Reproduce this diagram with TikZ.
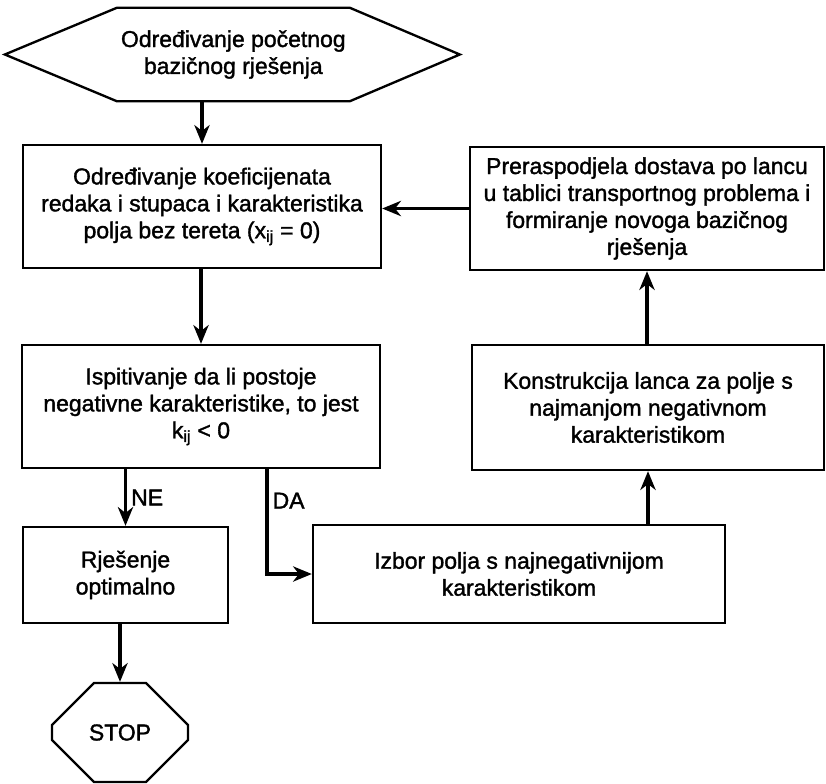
\documentclass[tikz,border=0pt]{standalone}
\usepackage{fontspec}
\setmainfont{Liberation Sans}[FakeBold=1.5]
\usetikzlibrary{arrows.meta,shapes.misc}

\begin{document}
\begin{tikzpicture}[
    auto,
    block/.style={rectangle, draw, line width=2pt, align=center, inner sep=2pt},
    txt/.style={font=\fontsize{19.6}{23}\selectfont},
    flow/.style={->, line width=3pt},
    >={Stealth[length=16pt,width=13pt,inset=5pt]}
]
\useasboundingbox (0,0) rectangle (24.78,-23.49);

% Start (Sechseck)
\node[txt, align=center, minimum width=6.81cm, minimum height=2.79cm] at (7.0,-1.635) (start)
    {Određivanje početnog\\bazičnog rješenja};
\draw[line width=2pt] (start.north west) -- (start.north east) -- ([xshift=3.3cm]start.east)
    -- (start.south east) -- (start.south west) -- ([xshift=-3.36cm]start.west) -- cycle;

% Bloecke
\node[block, txt, minimum width=10.74cm, minimum height=3.69cm] at (6.06,-6.195) (dnode)
    {Određivanje koeficijenata\\redaka i stupaca i karakteristika\\polja bez tereta (x\textsubscript{ij} = 0)};
\node[block, txt, minimum width=10.74cm, minimum height=3.69cm] at (6.03,-12.195) (test)
    {Ispitivanje da li postoje\\negativne karakteristike, to jest\\k\textsubscript{ij} < 0};
\node[block, txt, minimum width=6.15cm, minimum height=2.88cm] at (3.765,-17.25) (opt)
    {Rješenje\\optimalno};
\node[block, txt, minimum width=12.36cm, minimum height=2.94cm] at (15.57,-17.22) (choose)
    {Izbor polja s najnegativnijom\\karakteristikom};
\node[block, txt, minimum width=10.56cm, minimum height=3.75cm] at (19.44,-12.225) (chain)
    {Konstrukcija lanca za polje s\\najmanjom negativnom\\karakteristikom};
\node[block, txt, minimum width=10.62cm, minimum height=3.69cm] at (19.41,-6.255) (redist)
    {Preraspodjela dostava po lancu\\u tablici transportnog problema i\\formiranje novoga bazičnog\\rješenja};

% Ende
\node[chamfered rectangle, draw, line width=2pt, txt,
      chamfered rectangle xsep=0.96cm, chamfered rectangle ysep=0.9cm,
      minimum width=4.08cm, minimum height=2.97cm] at (3.6,-21.975) (stop) {STOP};

% Verbindungspfeile
\draw[flow] (start.south -| dnode.north) -- (dnode.north);
\draw[flow] (dnode.south -| test.north) -- (test.north);
\draw[flow] (test.south -| opt.north) -- node[txt, right] {NE} (opt.north);
\draw[flow] ([xshift=1.98cm]test.south) |- node[txt, right, pos=0.15] {DA} (choose.west);
\draw[flow] (opt.south -| stop.north) -- (stop.north);
\draw[flow] (choose.north -| chain.south) -- (chain.south);
\draw[flow] (chain.north -| redist.south) -- (redist.south);
\draw[flow] (redist.west) -- (redist.west -| dnode.east);
\end{tikzpicture}
\end{document}
